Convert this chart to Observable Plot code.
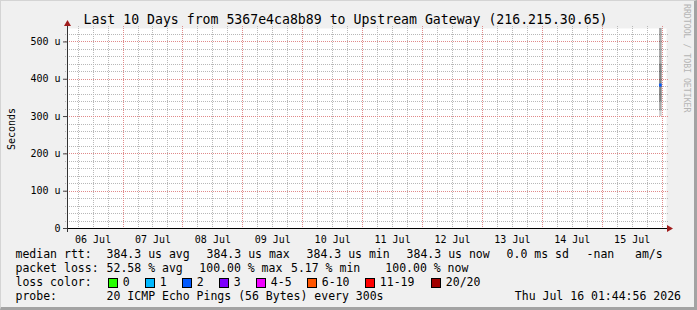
<!DOCTYPE html>
<html><head><meta charset="utf-8">
<script src="https://cdn.jsdelivr.net/npm/d3@7"></script>
<script src="https://cdn.jsdelivr.net/npm/@observablehq/plot@0.6"></script>
<style>
html,body{margin:0;padding:0;background:#f0f0f0;}
#wrap{position:relative;width:697px;height:310px;overflow:hidden;}
#frame{position:absolute;left:0;top:0;width:697px;height:310px;box-sizing:border-box;border-top:1px solid #d4d4d4;border-left:1px solid #d4d4d4;border-right:3px solid #a3a3a3;border-bottom:3px solid #a3a3a3;pointer-events:none;}
svg text{font-family:"DejaVu Sans Mono",monospace;}
</style></head><body><div id="wrap"></div><div id="frame"></div>
<script>
// ---- chart text ----
const title = "Last 10 Days from 5367e4ca8b89 to Upstream Gateway (216.215.30.65)";
const yLabel = "Seconds";
const credit = "RRDTOOL / TOBI OETIKER";

// ---- time range (UTC) ----
const startTime = new Date(Date.UTC(2026, 6, 6, 1, 44, 56));
const endTime = new Date(Date.UTC(2026, 6, 16, 1, 44, 56));

// ---- tick labels ----
const dayLabels = ["06 Jul","07 Jul","08 Jul","09 Jul","10 Jul","11 Jul","12 Jul","13 Jul","14 Jul","15 Jul"];
const yTicks = [0, 100, 200, 300, 400, 500];          // microseconds
const yMax = 536;                                      // microseconds

// ---- the one sample that has data ----
const sampleStart = [new Date(Date.UTC(2026, 6, 15, 23, 0))];
const sampleEnd = [new Date(Date.UTC(2026, 6, 16, 0, 0))];
const pings = [300, 315, 340, 384.3, 440, 600, 640];  // microseconds, sorted
const medianRtt = [384.3];

// ---- legend ----
const rttLabel = "median rtt:";
const rttItems = ["384.3 us avg", "384.3 us max", "384.3 us min", "384.3 us now", "0.0 ms sd", "-nan", "am/s"];
const lossLabel = "packet loss:";
const lossItems = ["52.58 % avg", "100.00 % max", "5.17 % min", "100.00 % now"];
const lossColorLabel = "loss color:";
const lossBins = ["0", "1", "2", "3", "4-5", "6-10", "11-19", "20/20"];
const lossColors = ["#26ff00", "#00b8ff", "#0059ff", "#7e00ff", "#f000ff", "#ff5500", "#ff0000", "#a00000"];
const probeLabel = "probe:";
const probeText = "20 ICMP Echo Pings (56 Bytes) every 300s";
const stamp = "Thu Jul 16 01:44:56 2026";

// ---- derived ----
const dayNoons = dayLabels.map(s => new Date(Date.UTC(2026, 6, +s.slice(0, 2), 12)));
const labelOf = new Map(dayNoons.map((d, i) => [+d, dayLabels[i]]));
const sixHours = d3.utcHour.every(6).range(startTime, endTime);
const midnights = sixHours.filter(d => d.getUTCHours() === 0);
const minorX = sixHours.filter(d => d.getUTCHours() !== 0);
const minorY = d3.range(20, yMax, 20).filter(v => v % 100 !== 0);
const majorY = yTicks.filter(v => v > 0);
const n = pings.length;
const smoke = d3.range(Math.floor(n / 2)).map(i => ({x1: sampleStart[0], x2: sampleEnd[0], lo: pings[i], hi: pings[n - 1 - i]}));
const medians = medianRtt.map((v, i) => ({x1: sampleStart[i], x2: sampleEnd[i], v}));

const M = {left: 67, right: 31, top: 28, bottom: 82};
const W = 697, H = 310;
const grid = {strokeDasharray: "1,1", shapeRendering: "crispEdges"};
const minorColor = "#b8b8b8", majorColor = "#e08a8a";

const plot = Plot.plot({
  width: W, height: H,
  marginLeft: M.left, marginRight: M.right, marginTop: M.top, marginBottom: M.bottom,
  style: {background: "#f0f0f0", color: "black", fontFamily: "DejaVu Sans Mono", fontSize: "10px", overflow: "visible"},
  x: {type: "utc", domain: [startTime, endTime]},
  y: {domain: [0, yMax]},
  marks: [
    Plot.frame({fill: "white", stroke: null}),
    Plot.ruleY(minorY, {...grid, stroke: minorColor, insetLeft: -2, insetRight: -2}),
    Plot.ruleX(minorX, {...grid, stroke: minorColor, insetTop: -2, insetBottom: -2}),
    Plot.ruleY(majorY, {...grid, stroke: majorColor, insetLeft: -2, insetRight: -2}),
    Plot.ruleX(midnights, {...grid, stroke: majorColor, insetTop: -2, insetBottom: -2}),
    Plot.rect(smoke, {x1: "x1", x2: "x2", y1: "lo", y2: "hi", fill: "black", fillOpacity: 0.2, clip: true}),
    Plot.ruleY(medians, {y: "v", x1: "x1", x2: "x2", stroke: "#0059ff", strokeWidth: 3}),
    Plot.ruleY([0], {stroke: "black", insetLeft: -4, insetRight: -3, shapeRendering: "crispEdges"}),
    Plot.ruleX([startTime], {stroke: "#333", insetTop: -6, insetBottom: -4, shapeRendering: "crispEdges"}),
    Plot.axisY(yTicks, {tickSize: 4, tickPadding: 3, fontSize: 10, stroke: "#444", tickFormat: d => d === 0 ? "0" : `${d} u`}),
    Plot.axisX(dayNoons, {tickSize: 0, tickPadding: 7, fontSize: 10, tickFormat: d => labelOf.get(+d)})
  ]
});
document.getElementById("wrap").appendChild(plot);

const svg = d3.select(plot);
const x0 = M.left, x1 = W - M.right, y0 = H - M.bottom, y1 = M.top;
// axis arrows
svg.append("path").attr("d", `M${x0 + 0.5 - 3.5},${y1 - 2}L${x0 + 0.5 + 3.5},${y1 - 2}L${x0 + 0.5},${y1 - 8}Z`).attr("fill", "#a01c1c");
svg.append("path").attr("d", `M${x1 + 1},${y0 + 0.5 - 3.5}L${x1 + 1},${y0 + 0.5 + 3.5}L${x1 + 7},${y0 + 0.5}Z`).attr("fill", "#a01c1c");
// title
svg.append("text").attr("x", 83.5).attr("y", 24).attr("text-anchor", "start").attr("font-size", 13.2).attr("fill", "black").text(title);
// y label
svg.append("text").attr("transform", `translate(14.5,${(y0 + y1) / 2 + 1}) rotate(-90)`).attr("text-anchor", "middle").attr("font-size", 10).attr("fill", "black").text(yLabel);
// credit
svg.append("text").attr("transform", `translate(684,4) rotate(90)`).attr("text-anchor", "start").attr("font-size", 8.2).attr("fill", "#b4b4b4").text(credit);

// legend
const FS = 11.5;
const rowY = [258, 272, 286, 300];
const leg = (x, y, t, anchor = "start") => svg.append("text").attr("x", x).attr("y", y).attr("font-size", FS).attr("fill", "black").attr("text-anchor", anchor).style("white-space", "pre").text(t);
const labelX = 15.5;
const rttX = [106.6, 206.6, 306.6, 406.6, 506.6, 586.6, 635];
const lossX = [106.6, 199.3, 291, 385.3];
const boxX = [108.5, 145.5, 182.5, 219.5, 256.5, 307.5, 365.5, 431.5];
leg(labelX, rowY[0], rttLabel);
rttItems.forEach((t, i) => leg(rttX[i], rowY[0], t));
leg(labelX, rowY[1], lossLabel);
lossItems.forEach((t, i) => leg(lossX[i], rowY[1], t));
leg(labelX, rowY[2], lossColorLabel);
lossBins.forEach((t, i) => {
  svg.append("rect").attr("x", boxX[i]).attr("y", 278.5).attr("width", 9).attr("height", 9).attr("fill", lossColors[i]).attr("stroke", "black").attr("stroke-width", 1);
  leg(boxX[i] + 14.3, rowY[2], t);
});
leg(labelX, rowY[3], probeLabel);
leg(106.6, rowY[3], probeText);
leg(681, rowY[3], stamp, "end");
</script></body></html>
